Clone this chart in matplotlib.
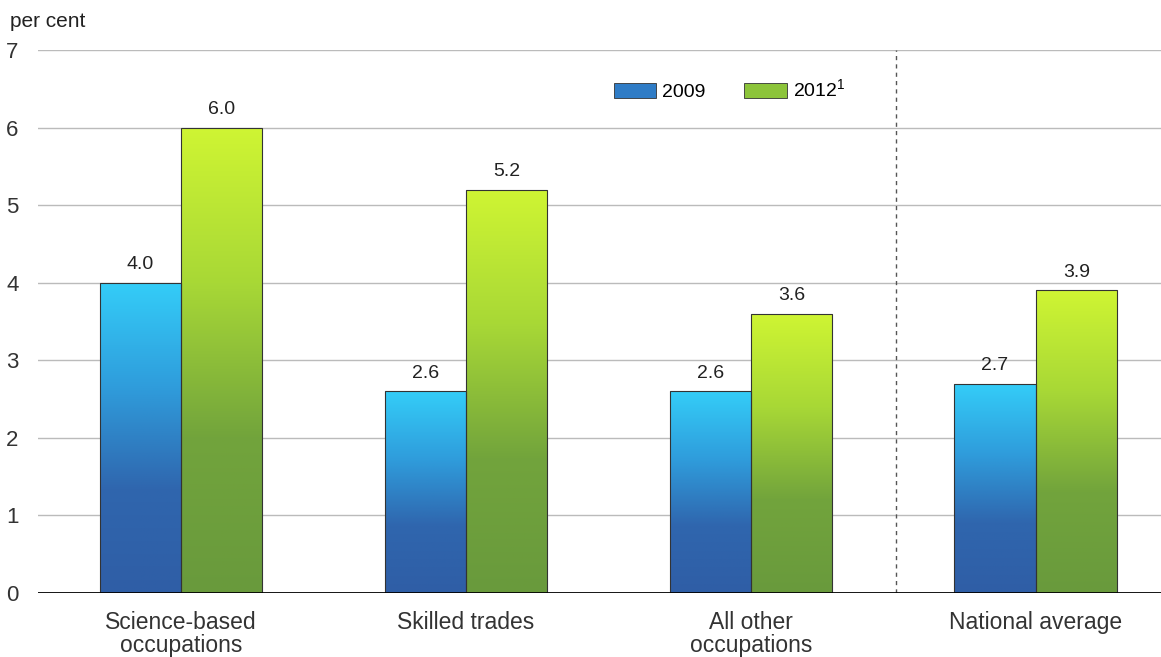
import numpy as np
import matplotlib.pyplot as plt
from matplotlib.colors import LinearSegmentedColormap
from matplotlib.patches import Patch

plt.rcParams["font.family"] = ["Liberation Sans", "DejaVu Sans"]
plt.rcParams["mathtext.fontset"] = "custom"
plt.rcParams["mathtext.rm"] = "Liberation Sans"

categories = ["Science-based\noccupations", "Skilled trades", "All other\noccupations", "National average"]
vals_2009 = [4.0, 2.6, 2.6, 2.7]
vals_2012 = [6.0, 5.2, 3.6, 3.9]
series_names = ["2009", "2012$^{\\rm 1}$"]

blue_cm = LinearSegmentedColormap.from_list("b", ["#2f5ea6", "#2f66ae", "#2f9ddc", "#34cdf8"])
green_cm = LinearSegmentedColormap.from_list("g", ["#699a3c", "#72a43c", "#a8d836", "#cff533"])

fig = plt.figure(figsize=(11.61, 6.57), dpi=100)
ax = fig.add_axes([0.0327, 0.0974, 0.9673, 0.8266])

x = np.arange(len(categories))
w = 0.285
grad = np.linspace(0, 1, 256).reshape(-1, 1)

def grad_bars(xs, vals, cmap):
    bars = ax.bar(xs, vals, w, color="none", edgecolor="#333333", linewidth=0.8, zorder=3)
    for b in bars:
        x0, y0 = b.get_x(), b.get_y()
        im = ax.imshow(grad, cmap=cmap, origin="lower", aspect="auto",
                       extent=[x0, x0 + b.get_width(), y0, y0 + b.get_height()], zorder=2)
        im.set_clip_path(b)
    return bars

b1 = grad_bars(x - w / 2, vals_2009, blue_cm)
b2 = grad_bars(x + w / 2, vals_2012, green_cm)

for xs, vals in [(x - w / 2, vals_2009), (x + w / 2, vals_2012)]:
    for xi, v in zip(xs, vals):
        ax.text(xi, v + 0.12, f"{v:.1f}", ha="center", va="bottom", fontsize=14, color="#222222")

ax.set_xlim(-0.502, 3.44)
ax.set_ylim(0, 7)
ax.set_yticks(range(0, 8))
ax.yaxis.grid(True, color="#bbbbbb", linewidth=1)
ax.set_axisbelow(True)
ax.axhline(0, color="black", linewidth=2, zorder=4)
ax.axvline(2.51, color="#555555", linestyle=(0, (3, 3)), linewidth=1, zorder=1)

ax.set_xticks(x)
ax.set_xticklabels(categories, fontsize=16.5, color="#333333", linespacing=1.0)
ax.tick_params(axis="x", length=0, pad=13)
ax.tick_params(axis="y", length=0, labelsize=16, labelcolor="#333333", pad=14)
for s in ax.spines.values():
    s.set_visible(False)

fig.text(0.009, 0.968, "per cent", fontsize=15, color="#222222", va="center")

handles = [Patch(facecolor="#2f7cc6", edgecolor="#333333", linewidth=0.6),
           Patch(facecolor="#8cc43a", edgecolor="#333333", linewidth=0.6)]
ax.legend(handles, series_names, loc="upper left", bbox_to_anchor=(0.497, 0.98), ncol=2,
          frameon=False, fontsize=14, handlelength=2.2, handleheight=0.8,
          handletextpad=0.3, columnspacing=2.0)

fig.savefig("out.png", dpi=100)
